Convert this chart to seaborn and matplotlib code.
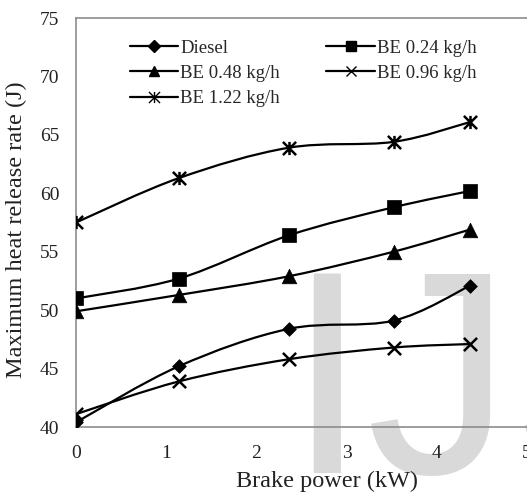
import numpy as np
import pandas as pd
import matplotlib
matplotlib.use("Agg")
import matplotlib.pyplot as plt
import seaborn as sns
from matplotlib.path import Path
from matplotlib.patches import PathPatch
from matplotlib.lines import Line2D

# ---- data ----
brake_power = [0.0, 1.14, 2.36, 3.52, 4.37]
diesel = [40.4, 45.2, 48.4, 49.1, 52.1]
be_024 = [51.0, 52.7, 56.4, 58.8, 60.2]
be_048 = [49.9, 51.3, 52.9, 55.0, 56.9]
be_096 = [41.1, 43.9, 45.8, 46.8, 47.1]
be_122 = [57.5, 61.3, 63.9, 64.4, 66.1]
series_names = ["Diesel", "BE 0.24 kg/h", "BE 0.48 kg/h", "BE 0.96 kg/h", "BE 1.22 kg/h"]
x_ticks = [0, 1, 2, 3, 4, 5]
y_ticks = [40, 45, 50, 55, 60, 65, 70, 75]
x_label = "Brake power (kW)"
y_label = "Maximum heat release rate (J)"
watermark = "IJSER"

sns.set_style("white")
plt.rcParams['font.family'] = ['Liberation Serif', 'DejaVu Serif']

df = pd.DataFrame({
    "power": brake_power * 5,
    "hrr": diesel + be_024 + be_048 + be_096 + be_122,
    "fuel": sum([[n] * len(brake_power) for n in series_names], []),
})

# Excel-style star marker (x + vertical bar)
star = Path([(0, -1), (0, 1), (-1, -1), (1, 1), (-1, 1), (1, -1)],
            [Path.MOVETO, Path.LINETO] * 3)

marker_map = {
    "Diesel": ("D", 7.0, 6.5),
    "BE 0.24 kg/h": ("s", 10.0, 6.5),
    "BE 0.48 kg/h": ("^", 10.5, 7.5),
    "BE 0.96 kg/h": ("x", 9.5, 6.5),
    "BE 1.22 kg/h": (star, 9.5, 8.0),
}

fig = plt.figure(figsize=(5.27, 4.93), dpi=100)
ax = fig.add_axes([76 / 527, 66 / 493, 451 / 527, 409 / 493])
ax.patch.set_alpha(0)

fig.text(286 / 527, 20 / 493, watermark, fontsize=209, family='Liberation Sans',
         color='#d9d9d9', va='baseline', ha='left', zorder=-5)


def smooth_path(xs, ys):
    pts = np.column_stack([xs, ys]).astype(float)
    n = len(pts)
    verts = [pts[0]]
    codes = [Path.MOVETO]
    for i in range(n - 1):
        p0 = pts[i - 1] if i > 0 else pts[i]
        p1, p2 = pts[i], pts[i + 1]
        p3 = pts[i + 2] if i + 2 < n else pts[i + 1]
        verts += [p1 + (p2 - p0) / 6, p2 - (p3 - p1) / 6, p2]
        codes += [Path.CURVE4] * 3
    return Path(verts, codes)


handles = {}
for name in series_names:
    sub = df[df["fuel"] == name]
    ax.add_patch(PathPatch(smooth_path(sub["power"], sub["hrr"]), fill=False,
                           edgecolor='black', lw=1.6, zorder=2))
    mk, ms, lms = marker_map[name]
    unfilled = mk in ("x",) or isinstance(mk, Path)
    sns.scatterplot(data=sub, x="power", y="hrr", marker=mk, s=ms ** 2,
                    color='black', edgecolor='black',
                    linewidth=1.8 if unfilled else 0.5, ax=ax, zorder=3, legend=False)
    handles[name] = Line2D([], [], color='black', lw=1.6, marker=mk, markersize=lms,
                           markeredgewidth=1.0, markerfacecolor='black',
                           markeredgecolor='black')

order = ["Diesel", "BE 0.48 kg/h", "BE 1.22 kg/h", "BE 0.24 kg/h", "BE 0.96 kg/h"]
leg = ax.legend([handles[n] for n in order], order, ncol=2, loc='upper left',
                bbox_to_anchor=(0.102, 0.966), frameon=False, fontsize=13.5,
                handlelength=2.6, handletextpad=0.1, columnspacing=2.48,
                labelspacing=0.44, borderaxespad=0)

ax.set_xlim(0, 5)
ax.set_ylim(40, 75)
ax.set_xticks(x_ticks)
ax.set_yticks(y_ticks)
ax.tick_params(axis='both', direction='out', length=6, width=1, color='#8c8c8c',
               labelsize=14, labelcolor='#222222')
ax.tick_params(axis='x', pad=7)
ax.tick_params(axis='y', pad=6)
for side in ['left', 'bottom', 'top']:
    ax.spines[side].set_color('#8c8c8c')
    ax.spines[side].set_linewidth(1.2)
ax.spines['right'].set_color('#dddddd')
ax.set_xlabel(x_label, fontsize=17.5, color='#222222')
ax.set_ylabel(y_label, fontsize=17.5, color='#222222')
ax.xaxis.set_label_coords(0.5565, -0.132)
ax.yaxis.set_label_coords(-0.131, 0.482)
ax.xaxis.label.set_va('center')
ax.yaxis.label.set_va('center')

fig.savefig("out.png", dpi=100)
